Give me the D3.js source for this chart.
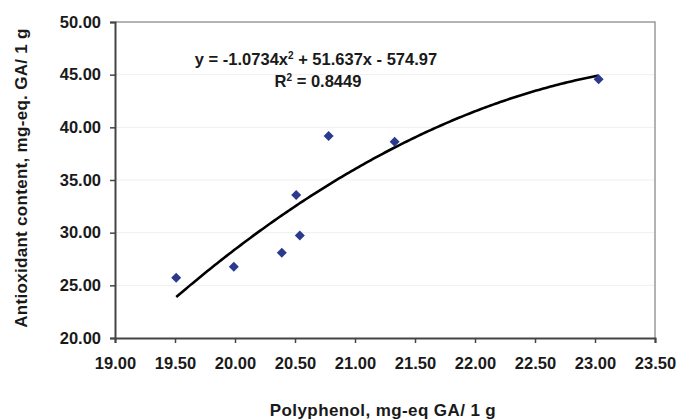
<!DOCTYPE html>
<html>
<head>
<meta charset="utf-8">
<script src="https://cdn.jsdelivr.net/npm/d3@7/dist/d3.min.js"></script>
<style>
  html, body { margin: 0; padding: 0; background: #fff; }
  svg { display: block; font-family: Arial, "Liberation Sans", sans-serif; }
</style>
</head>
<body>
<div id="chart"></div>
<script>
// ---------- data ----------
var polyphenol = [19.51, 19.99, 20.39, 20.54, 20.51, 20.78, 21.33, 23.03];
var antioxidant = [25.73, 26.77, 28.10, 29.72, 33.58, 39.18, 38.64, 44.57];
var trendCoef = [-1.0734, 51.637, -574.97]; // a, b, c of y = ax^2 + bx + c
var xTicks = [19.0, 19.5, 20.0, 20.5, 21.0, 21.5, 22.0, 22.5, 23.0, 23.5];
var yTicks = [20, 25, 30, 35, 40, 45, 50];
var eqLabel = 'y = -1.0734x';
var eqRest = ' + 51.637x - 574.97';
var r2Label = '0.8449';

// ---------- setup ----------
var W = 677, H = 419, m = { t: 22, r: 22, b: 81, l: 115 };
var INK = '#1a1a1a';
var svg = d3.select('#chart').append('svg').attr('width', W).attr('height', H);
var x = d3.scaleLinear().domain([19, 23.5]).range([m.l, W - m.r]);
var y = d3.scaleLinear().domain([20, 50]).range([H - m.b, m.t]);

// gridlines + frame
svg.append('g').selectAll('line').data(yTicks.slice(1, -1)).join('line')
  .attr('x1', x(19)).attr('x2', x(23.5)).attr('y1', function (d) { return y(d); }).attr('y2', function (d) { return y(d); })
  .attr('stroke', '#efefef').attr('stroke-width', 1);
svg.append('path').attr('d', 'M' + x(19) + ',' + y(50) + 'H' + x(23.5) + 'V' + y(20))
  .attr('fill', 'none').attr('stroke', '#9a9a9a').attr('stroke-width', 1.5);

// axes
var gx = svg.append('g').attr('transform', 'translate(0,' + y(20) + ')')
  .call(d3.axisBottom(x).tickValues(xTicks).tickSize(5).tickPadding(14).tickFormat(d3.format('.2f')));
var gy = svg.append('g').attr('transform', 'translate(' + x(19) + ',0)')
  .call(d3.axisLeft(y).tickValues(yTicks).tickSize(5).tickPadding(9).tickFormat(d3.format('.2f')));
[gx, gy].forEach(function (g) {
  g.select('.domain').attr('stroke', '#444').attr('stroke-width', 2);
  g.selectAll('line').attr('stroke', '#444').attr('stroke-width', 1.5);
  g.selectAll('text').attr('fill', INK).attr('font-size', 16.5).attr('font-weight', 700).attr('font-family', 'Arial, "Liberation Sans", sans-serif');
});

// trendline
var xs = d3.range(polyphenol.length ? d3.min(polyphenol) : 19, d3.max(polyphenol) + 0.001, 0.02);
var line = d3.line().x(function (d) { return x(d); })
  .y(function (d) { return y(trendCoef[0] * d * d + trendCoef[1] * d + trendCoef[2]); });
svg.append('path').datum(xs).attr('d', line).attr('fill', 'none').attr('stroke', '#000').attr('stroke-width', 2.6).attr('stroke-linejoin', 'round');

// points
var pts = polyphenol.map(function (p, i) { return [p, antioxidant[i]]; });
svg.append('g').selectAll('path').data(pts).join('path')
  .attr('transform', function (d) { return 'translate(' + x(d[0]) + ',' + y(d[1]) + ')'; })
  .attr('d', 'M0,-5L5,0L0,5L-5,0Z').attr('fill', '#2b3a8e');

// equation
var eq = svg.append('text').attr('x', 316).attr('y', 65).attr('text-anchor', 'middle')
  .attr('font-size', 16.5).attr('font-weight', 700).attr('fill', INK);
eq.append('tspan').text(eqLabel);
eq.append('tspan').attr('font-size', 10).attr('dy', -6).text('2');
eq.append('tspan').attr('dy', 6).text(eqRest);
var r2 = svg.append('text').attr('x', 318).attr('y', 87).attr('text-anchor', 'middle')
  .attr('font-size', 16.5).attr('font-weight', 700).attr('fill', INK);
r2.append('tspan').text('R');
r2.append('tspan').attr('font-size', 10).attr('dy', -6).text('2');
r2.append('tspan').attr('dy', 6).text(' = ' + r2Label);

// axis titles
svg.append('text').attr('x', 383).attr('y', 416).attr('text-anchor', 'middle')
  .attr('font-size', 17).attr('font-weight', 700).attr('fill', INK).attr('letter-spacing', 0.4)
  .text('Polyphenol, mg-eq GA/ 1 g');
svg.append('text').attr('transform', 'translate(27,178) rotate(-90)').attr('text-anchor', 'middle')
  .attr('font-size', 17).attr('font-weight', 700).attr('fill', INK).attr('letter-spacing', 0.3)
  .text('Antioxidant content, mg-eq. GA/ 1 g');
</script>
</body>
</html>
